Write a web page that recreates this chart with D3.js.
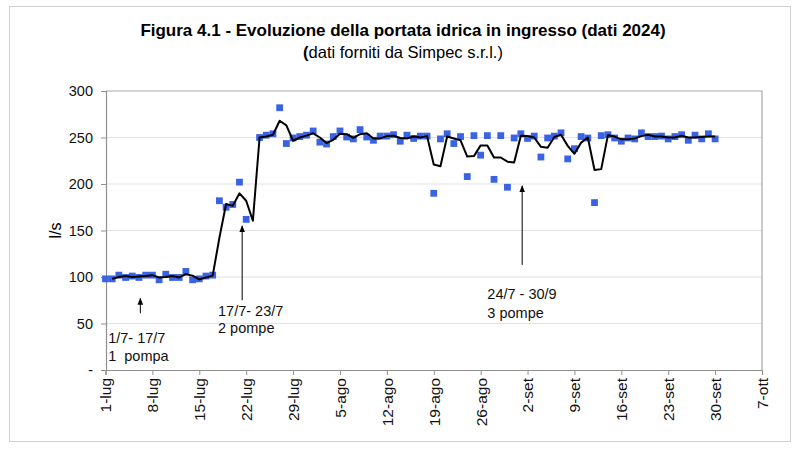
<!DOCTYPE html>
<html><head><meta charset="utf-8">
<script src="https://cdn.jsdelivr.net/npm/d3@7"></script>
<style>body{margin:0;background:#fff}svg{display:block}text{font-family:"Liberation Sans",Arial,sans-serif}</style>
</head><body><svg id="c" width="800" height="449"></svg>
<script>
// ---- data ----
const startDate = "2024-07-01";
const flowPoints = [98,98,102,99.5,101,99.5,102,102,97,103,99.5,99.5,106,97,98,101,102,
182,175,178,202,162,null,250,252.5,254,282,243.5,249.5,251,252.5,
257,245,243,251,257,250.5,248.5,258.5,250.5,247,251.5,251.5,253,246,252.5,249,251.5,251.5,
190,248.5,254,243.5,251,208,252,231,252,205,252,196.5,249.5,
254,249,251.5,229,249.5,251.5,255,227,238,251,249.5,180,252,253,249.5,246,249.5,248.5,255,251,
251,251.5,248.5,251,253,247,252.5,248.5,254,248.5];
const avgLine = [null,98,100,101,100,100.5,101,102,99.5,100,101,99.5,103,101.5,97.5,99.5,101.5,
142,178.5,176.5,190,182,160.5,250,251,253,268,263,246.5,250,252,
254.5,250,244,247.5,254,253.5,249.5,253.5,254.5,249,249,251.5,252,249.5,249,251,250,251.5,
221,219,251,249,247,229.5,230,241.5,241.5,228.5,228.5,224,223,
252,251.5,250,240,239,250.5,253,241,232.5,244.5,250,215,216,252.5,251,248,248,249,251.5,253,
251,251,250,250,252,250,250,250.5,251,251];
const xTickLabels = ["1-lug","8-lug","15-lug","22-lug","29-lug","5-ago","12-ago","19-ago","26-ago","2-set","9-set","16-set","23-set","30-set","7-ott"];
const yTickValues = [0,50,100,150,200,250,300];
const yTickLabels = ["-","50","100","150","200","250","300"];
const titleText = "Figura 4.1 - Evoluzione della portata idrica in ingresso (dati 2024)";
const subtitleText = "dati forniti da Simpec s.r.l.)";
const yAxisTitle = "l/s";
// annotations: [dayOffset, value, text]
const annoTexts = [[0.4,35,"1/7- 17/7"],[0.4,15,"1  pompa"],[16.8,63,"17/7- 23/7"],[16.8,45,"2 pompe"],[57,82,"24/7 - 30/9"],[57,61,"3 pompe"]];
// arrows: [dayOffset, fromValue, toValue]
const annoArrows = [[5.2,61,77],[20.4,75,155],[62.2,113,198]];

// ---- chart ----
const svg = d3.select("#c");
const parse = d3.timeParse("%Y-%m-%d");
const d0 = parse(startDate);
const day = i => d3.timeDay.offset(d0, i);
const dEnd = d3.timeDay.offset(d0, 98);
const x = d3.scaleTime().domain([d0, dEnd]).range([105.5, 762]);
const y = d3.scaleLinear().domain([0, 300]).range([370, 91]);
const xf = v => x(d0) + (x(day(1)) - x(d0)) * v;

svg.append("rect").attr("x",9.5).attr("y",6.5).attr("width",781).attr("height",435)
  .attr("fill","none").attr("stroke","#d0d0d0");

svg.append("text").attr("x",403).attr("y",36).attr("text-anchor","middle")
  .attr("font-size",17).attr("font-weight","bold").text(titleText);
const st = svg.append("text").attr("x",403).attr("y",58).attr("text-anchor","middle").attr("font-size",16.5);
st.append("tspan").attr("font-weight","bold").text("(");
st.append("tspan").text(subtitleText);

// grid
svg.append("g").selectAll("line").data(yTickValues.slice(1,-1)).join("line")
  .attr("x1",106).attr("x2",762).attr("y1",d=>y(d)).attr("y2",d=>y(d))
  .attr("stroke","#e2e2e2").attr("stroke-width",1.2);
// plot border top/right
svg.append("path").attr("d",`M106,${y(300)}H762V370`).attr("fill","none").attr("stroke","#a8a8a8").attr("stroke-width",1.2);

// y axis
const yAxis = d3.axisLeft(y).tickValues(yTickValues).tickSize(5).tickFormat((d,i)=>yTickLabels[i]);
const gy = svg.append("g").attr("transform","translate(106,0)").call(yAxis);
gy.select(".domain").attr("stroke","#909090").attr("stroke-width",1.2);
gy.selectAll(".tick line").attr("stroke","#909090");
gy.selectAll("text").attr("font-size",14.5).attr("fill","#111").attr("x",-13).style("font-family","Liberation Sans, Arial, sans-serif");

// x axis
const xTicks = d3.range(15).map(i => day(i*7));
const xAxis = d3.axisBottom(x).tickValues(xTicks).tickSize(5).tickFormat((d,i)=>xTickLabels[i]);
const gx = svg.append("g").attr("transform","translate(0,370)").call(xAxis);
gx.select(".domain").attr("stroke","#909090").attr("stroke-width",1.2);
gx.selectAll(".tick line").attr("stroke","#909090");
gx.selectAll("text").attr("font-size",15.5).attr("fill","#111").style("font-family","Liberation Sans, Arial, sans-serif")
  .attr("text-anchor","end").attr("dy","0.35em").attr("x",-8).attr("y",0).attr("transform","rotate(-90)");

svg.append("text").attr("transform",`translate(55,${y(150)}) rotate(-90)`).attr("text-anchor","middle")
  .attr("font-size",16).attr("dy","0.35em").text(yAxisTitle);

// points
const pts = flowPoints.map((v,i)=>({d:day(i),v})).filter(p=>p.v!==null);
svg.append("g").selectAll("rect").data(pts).join("rect")
  .attr("x",p=>x(p.d)-3.4).attr("y",p=>y(p.v)-3.4).attr("width",6.8).attr("height",6.8)
  .attr("fill","#3a63e4");

// line
const lineData = avgLine.map((v,i)=>({d:day(i),v})).filter(p=>p.v!==null);
svg.append("path").datum(lineData).attr("fill","none").attr("stroke","#000").attr("stroke-width",2)
  .attr("stroke-linejoin","round")
  .attr("d", d3.line().x(p=>x(p.d)).y(p=>y(p.v)));

// annotations
svg.append("defs").append("marker").attr("id","ah").attr("viewBox","0 0 10 10").attr("refX",9).attr("refY",5)
  .attr("markerWidth",7).attr("markerHeight",7).attr("orient","auto")
  .append("path").attr("d","M0,1L10,5L0,9Z").attr("fill","#000");
svg.append("g").selectAll("line").data(annoArrows).join("line")
  .attr("x1",a=>xf(a[0])).attr("x2",a=>xf(a[0])).attr("y1",a=>y(a[1])).attr("y2",a=>y(a[2]))
  .attr("stroke","#000").attr("stroke-width",1).attr("marker-end","url(#ah)");
svg.append("g").selectAll("text").data(annoTexts).join("text")
  .attr("x",a=>xf(a[0])).attr("y",a=>y(a[1])).attr("dy","0.35em").attr("font-size",14.5).attr("fill","#111")
  .attr("xml:space","preserve").style("white-space","pre").text(a=>a[2]);
</script></body></html>
